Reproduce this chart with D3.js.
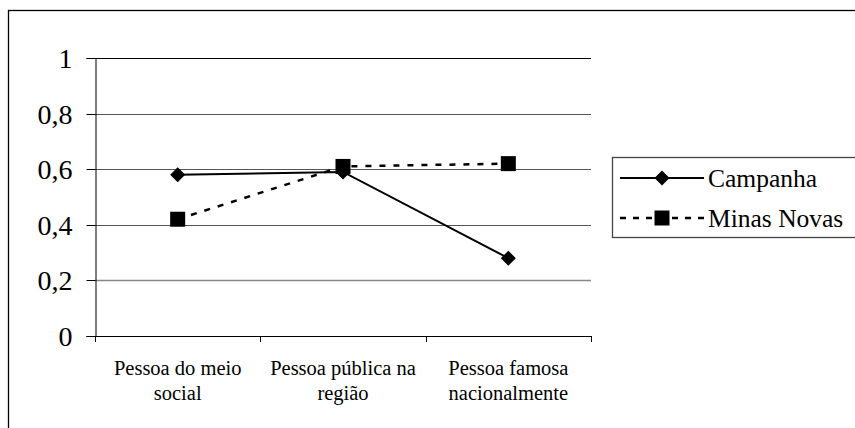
<!DOCTYPE html>
<html><head><meta charset="utf-8">
<script src="https://cdn.jsdelivr.net/npm/d3@7"></script>
</head><body style="margin:0;background:#fff">
<svg id="c" width="855" height="428" style="display:block"></svg>
<script>
const categories = [["Pessoa do meio","social"],["Pessoa pública na","região"],["Pessoa famosa","nacionalmente"]];
const seriesNames = ["Campanha","Minas Novas"];
const campanha = [0.58, 0.59, 0.28];
const minasNovas = [0.42, 0.61, 0.62];
const yTicks = [0, 0.2, 0.4, 0.6, 0.8, 1];
const yTickLabels = ["0","0,2","0,4","0,6","0,8","1"];

const FONT = '"Liberation Serif", "Times New Roman", serif';
const svg = d3.select("#c");
const L = 95, R = 591, T = 58, B = 336;

svg.append("rect").attr("x",8.5).attr("y",10.5).attr("width",900).attr("height",500)
  .attr("fill","none").attr("stroke","#000").attr("stroke-width",1.3);

const x = d3.scaleBand().domain(d3.range(categories.length)).range([L,R]).padding(0);
const y = d3.scaleLinear().domain([0,1]).range([B,T]);

svg.append("g").selectAll("line").data(yTicks.filter(d=>d>0)).join("line")
  .attr("x1",L).attr("x2",R).attr("y1",d=>Math.round(y(d))+0.5).attr("y2",d=>Math.round(y(d))+0.5)
  .attr("stroke",d=>d===1?"#000":(d===0.2?"#888":"#555")).attr("stroke-width",d=>d===0.2?1.5:1);

const yAxis = d3.axisLeft(y).tickValues(yTicks).tickSize(9).tickPadding(14)
  .tickFormat((d,i)=>yTickLabels[i]);
const gy = svg.append("g").attr("transform",`translate(${L+0.5},0)`).call(yAxis);
gy.select(".domain").attr("stroke","#000");
gy.selectAll(".tick line").attr("stroke","#000");
gy.selectAll(".tick text").style("font-family",FONT).style("font-size","28px").attr("fill","#000").attr("dy","0.33em");
gy.selectAll(".tick").attr("transform",d=>`translate(0,${Math.round(y(d))+0.5})`);

svg.append("line").attr("x1",L).attr("x2",R).attr("y1",B+0.5).attr("y2",B+0.5).attr("stroke","#000");
const xt = [0,1,2,3].map(i=> i<3 ? x(i) : x(2)+x.bandwidth());
svg.append("g").selectAll("line").data(xt).join("line")
  .attr("x1",d=>Math.round(d)+0.5).attr("x2",d=>Math.round(d)+0.5).attr("y1",B).attr("y2",B+6).attr("stroke","#000");
const cx = i => x(i)+x.bandwidth()/2;
svg.append("g").selectAll("text").data(categories).join("text")
  .style("font-family",FONT).style("font-size","20.5px").attr("text-anchor","middle")
  .attr("transform",(d,i)=>`translate(${cx(i)},375)`)
  .each(function(d){
    d3.select(this).selectAll("tspan").data(d).join("tspan").attr("x",0).attr("dy",(t,j)=>j?25:0).text(t=>t);
  });

const line = d3.line().x((d,i)=>cx(i)).y(d=>y(d));
svg.append("path").datum(minasNovas).attr("d",line).attr("fill","none").attr("stroke","#000")
  .attr("stroke-width",2.5).attr("stroke-dasharray","6,8");
svg.append("path").datum(campanha).attr("d",line).attr("fill","none").attr("stroke","#000").attr("stroke-width",2);

const diamond = (g,px,py)=>g.append("path").attr("d",`M${px},${py-7.5}L${px+7.5},${py}L${px},${py+7.5}L${px-7.5},${py}Z`).attr("fill","#000");
const square = (g,px,py)=>g.append("rect").attr("x",px-7.5).attr("y",py-7.5).attr("width",15).attr("height",15).attr("fill","#000");
const gm = svg.append("g");
minasNovas.forEach((v,i)=>square(gm,cx(i),y(v)));
campanha.forEach((v,i)=>diamond(gm,cx(i),y(v)));

const lg = svg.append("g");
lg.append("rect").attr("x",612.5).attr("y",157.5).attr("width",260).attr("height",80)
  .attr("fill","#fff").attr("stroke","#444").attr("stroke-width",1.3);
lg.append("line").attr("x1",620).attr("x2",704).attr("y1",178).attr("y2",178).attr("stroke","#000").attr("stroke-width",2);
diamond(lg,662,178);
lg.append("line").attr("x1",620).attr("x2",704).attr("y1",218).attr("y2",218).attr("stroke","#000").attr("stroke-width",2.5).attr("stroke-dasharray","6,7");
square(lg,662,218);
lg.selectAll("text").data(seriesNames).join("text").attr("x",708).attr("y",(d,i)=>187+i*40)
  .style("font-family",FONT).style("font-size","25.5px").text(d=>d);
</script>
</body></html>
